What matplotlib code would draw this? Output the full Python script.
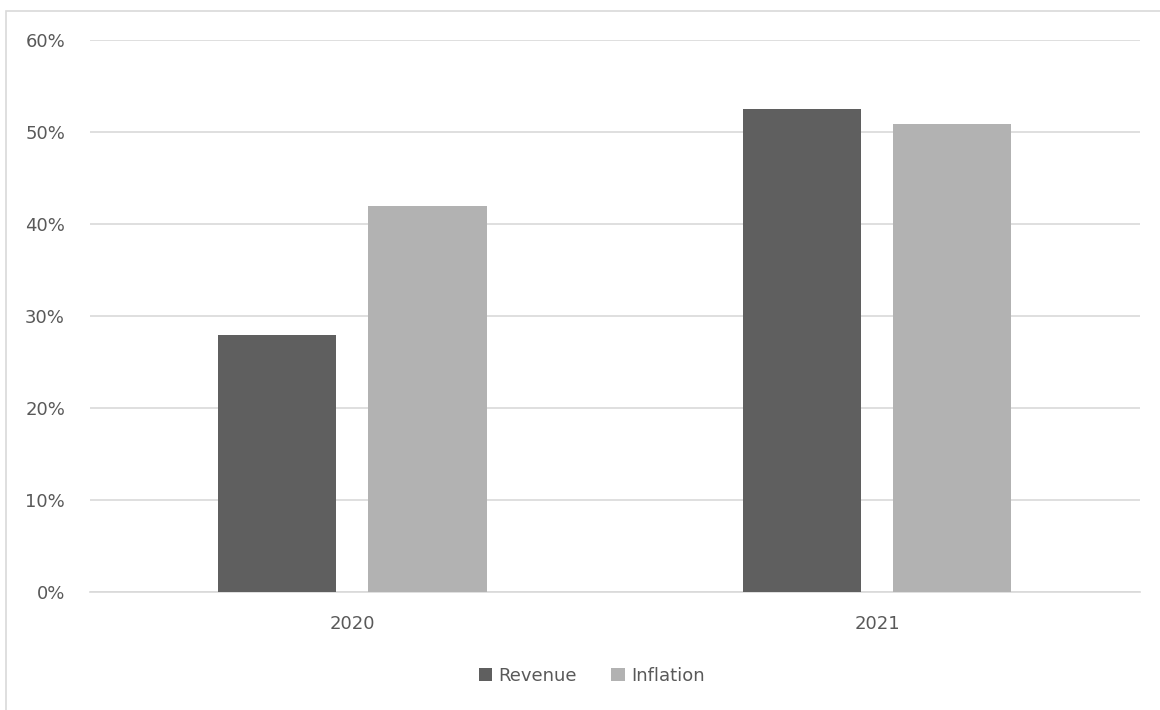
import matplotlib.pyplot as plt
from matplotlib.patches import Rectangle
from matplotlib.ticker import PercentFormatter

years = ['2020', '2021']
revenue = [28, 52.6]
inflation = [42, 50.9]

text_color = '#595959'

fig = plt.figure(figsize=(11.6, 7.1), dpi=100)
ax = fig.add_axes([0.0776, 0.1655, 0.905, 0.7775])

# outer chart border like the spreadsheet frame
fig.patches.append(Rectangle((6 / 1160, -0.01), 1.1, 1 - 11 / 710 + 0.01,
                             transform=fig.transFigure, fill=False,
                             edgecolor='#d9d9d9', linewidth=1.2))

x = list(range(len(years)))
w = 0.225
off = 0.143
ax.bar([i - off for i in x], revenue, width=w, color='#5f5f5f', label='Revenue', zorder=3)
ax.bar([i + off for i in x], inflation, width=w, color='#b2b2b2', label='Inflation', zorder=3)

ax.set_xlim(-0.5, 1.5)
ax.set_ylim(0, 60)
ax.set_yticks(range(0, 61, 10))
ax.yaxis.set_major_formatter(PercentFormatter(decimals=0))
ax.set_xticks(x)
ax.set_xticklabels(years)
ax.grid(axis='y', color='#d9d9d9', linewidth=1.2, zorder=0)
ax.tick_params(length=0, labelsize=13, labelcolor=text_color)
ax.tick_params(axis='x', pad=16)
ax.tick_params(axis='y', pad=18)
for s in ['top', 'right', 'left']:
    ax.spines[s].set_visible(False)
ax.spines['bottom'].set_color('#d9d9d9')
ax.spines['bottom'].set_linewidth(1.2)

leg = fig.legend(loc='center', bbox_to_anchor=(0.51, 0.048), ncol=2, frameon=False,
                 fontsize=13, handlelength=0.75, handleheight=0.75,
                 handletextpad=0.35, columnspacing=1.9)
for t in leg.get_texts():
    t.set_color(text_color)

fig.savefig('out.png', dpi=100)
